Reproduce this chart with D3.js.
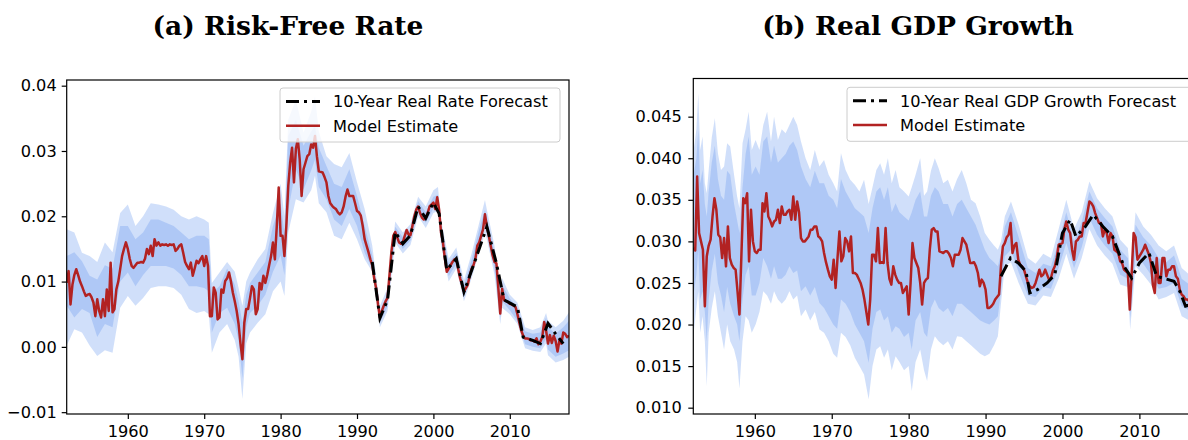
<!DOCTYPE html>
<html>
<head>
<meta charset="utf-8">
<script src="https://cdn.jsdelivr.net/npm/d3@7"></script>
<style>
  body { margin: 0; background: #fff; }
  svg { display: block; font-family: "DejaVu Sans", sans-serif; }
</style>
</head>
<body>
<svg id="chart" width="1188" height="440"></svg>
<script>
// ---- (a) risk-free rate: quarterly model estimate, 1952Q1 - 2017Q4
var rfModel = [
  .0098,.0116,.0065,.0095, .0110,.0119,.0110,.0100, .0093,.0085,.0078,.0080, .0081,.0076,.0068,.0047,
  .0073,.0055,.0045,.0073, .0047,.0088,.0055,.0129, .0053,.0058,.0088,.0100, .0119,.0139,.0150,.0160,
  .0150,.0135,.0124,.0121, .0125,.0129,.0129,.0130, .0129,.0135,.0150,.0142, .0155,.0139,.0165,.0155,
  .0160,.0155,.0157,.0156, .0157,.0155,.0157,.0156, .0157,.0147,.0150,.0155, .0157,.0144,.0130,.0124,
  .0119,.0129,.0109,.0120, .0132,.0128,.0134,.0139, .0124,.0139,.0124,.0047, .0047,.0091,.0083,.0042,
  .0045,.0088,.0083,.0101, .0105,.0114,.0100,.0083, .0070,.0055,.0035,.0005, -.0019,.0037,.0058,.0058,
  .0075,.0093,.0088,.0050, .0058,.0098,.0088,.0109, .0098,.0110,.0125,.0139, .0160,.0134,.0185,.0244,
  .0170,.0170,.0139,.0185, .0246,.0282,.0305,.0252, .0303,.0318,.0287,.0231, .0272,.0282,.0292,.0295,
  .0310,.0305,.0323,.0292, .0269,.0268,.0267,.0260, .0252,.0231,.0220,.0216, .0213,.0211,.0206,.0203,
  .0206,.0215,.0230,.0241, .0231,.0231,.0231,.0220, .0208,.0206,.0201,.0185, .0165,.0155,.0145,.0134,
  .0125,.0105,.0090,.0065, .0045,.0055,.0063,.0070, .0075,.0110,.0145,.0170, .0176,.0168,.0160,.0158,
  .0160,.0170,.0179,.0172, .0171,.0185,.0200,.0210, .0215,.0205,.0198,.0195, .0197,.0205,.0215,.0218,
  .0221,.0211,.0229,.0210, .0175,.0160,.0135,.0115, .0120,.0125,.0130,.0134, .0135,.0119,.0105,.0095,
  .0085,.0090,.0095,.0109, .0120,.0125,.0135,.0155, .0160,.0170,.0180,.0203, .0184,.0170,.0155,.0140,
  .0130,.0128,.0090,.0051, .0089,.0072,.0070,.0069, .0066,.0065,.0063,.0061, .0050,.0037,.0025,.0017,
  .0013,.0013,.0012,.0010, .0010,.0008,.0013,.0004, .0008,.0015,.0038,.0025, .0005,.0018,.0006,.0017,
  .0009,-.0007,.0010,.0005, .0022,.0020,.0015,.0017
];
var rfFcYears = [1992, 1993, 1994, 1995, 1996, 1997, 1998, 1999, 2000, 2000.75, 2001.75, 2003, 2004,
  2005.25, 2007, 2008.25, 2009.25, 2011, 2011.75, 2013, 2014, 2015, 2016, 2017];
var rfFc = [.0130, .0044, .0072, .0176, .0158, .0171, .0215, .0197, .0221, .0204, .0118, .0135, .0084,
  .0125, .0184, .0128, .0072, .0061, .0015, .0010, .0005, .0036, .0020, .0005];
var rfBandYears = [1952, 1953, 1954, 1955, 1956, 1957, 1958, 1959, 1960, 1961, 1962, 1963, 1964, 1965,
  1966, 1967, 1968, 1969, 1970, 1970.6, 1971, 1972, 1973, 1974, 1974.5, 1975, 1975.5, 1976, 1977, 1978,
  1979, 1980, 1980.5, 1981, 1982, 1983, 1984, 1984.5, 1985, 1986, 1987, 1988, 1989, 1990, 1991, 1992,
  1993, 1994, 1995, 1996, 1997, 1998, 1999, 2000, 2000.6, 2001, 2002, 2003, 2004, 2005, 2006, 2006.75,
  2007, 2008, 2008.75, 2009, 2010, 2011, 2012, 2013, 2014, 2014.75, 2015, 2016, 2017, 2017.75];
var rfOuterLo = [.0002, .0027, .0022, .0002, -.0014, -.0005, -.0009, .0060, .0078, .0063, .0075, .0090, .0093, .0093,
  .0090, .0080, .0058, .0052, .0055, .0050, -.0009, .0022, .0035, .0010, -.0015, -.0080, .0005, .0022, .0037, .0050,
  .0085, .0100, .0078, .0175, .0226, .0221, .0240, .0262, .0220, .0206, .0170, .0165, .0190, .0165, .0134, .0115,
  .0030, .0055, .0160, .0143, .0156, .0200, .0182, .0205, .0208, .0155, .0100, .0120, .0070, .0105, .0145, .0175,
  .0165, .0110, .0035, .0060, .0050, .0035, -.0002, -.0006, -.0008, .0005, -.0013, -.0024, -.0020, -.0015];
var rfInnerLo = [.0063, .0045, .0058, .0052, .0015, .0035, .0030, .0100, .0114, .0093, .0110, .0124, .0124, .0124,
  .0120, .0110, .0093, .0093, .0090, .0085, .0022, .0052, .0060, .0035, .0010, -.0049, .0030, .0052, .0063, .0080,
  .0115, .0140, .0110, .0210, .0272, .0241, .0270, .0287, .0245, .0226, .0195, .0185, .0211, .0185, .0144, .0120,
  .0037, .0062, .0168, .0150, .0163, .0207, .0190, .0212, .0215, .0163, .0108, .0127, .0077, .0113, .0155, .0185,
  .0175, .0120, .0045, .0070, .0056, .0040, .0004, .0000, -.0002, .0012, -.0004, -.0015, -.0010, -.0005];
var rfInnerHi = [.0139, .0145, .0131, .0109, .0103, .0125, .0120, .0185, .0185, .0165, .0175, .0195, .0195, .0190,
  .0185, .0175, .0165, .0170, .0170, .0165, .0083, .0093, .0120, .0095, .0070, .0037, .0080, .0098, .0114, .0130,
  .0185, .0220, .0175, .0323, .0348, .0308, .0330, .0338, .0305, .0277, .0250, .0245, .0272, .0231, .0185, .0140,
  .0053, .0082, .0184, .0168, .0180, .0223, .0206, .0230, .0233, .0185, .0128, .0144, .0094, .0133, .0180, .0210,
  .0198, .0145, .0080, .0095, .0074, .0060, .0024, .0020, .0022, .0045, .0030, .0020, .0030, .0040];
var rfOuterHi = [.0180, .0175, .0144, .0139, .0130, .0160, .0145, .0205, .0218, .0185, .0200, .0220, .0218, .0215,
  .0210, .0200, .0195, .0200, .0195, .0190, .0098, .0114, .0130, .0115, .0090, .0063, .0100, .0114, .0134, .0150,
  .0205, .0250, .0200, .0348, .0379, .0328, .0360, .0384, .0330, .0292, .0280, .0275, .0297, .0252, .0211, .0155,
  .0063, .0090, .0192, .0175, .0188, .0230, .0215, .0240, .0245, .0195, .0135, .0152, .0102, .0143, .0190, .0225,
  .0210, .0155, .0090, .0105, .0080, .0068, .0030, .0026, .0030, .0052, .0040, .0030, .0040, .0053];
var rfTicksY = [-0.01, 0, 0.01, 0.02, 0.03, 0.04];

// ---- (b) real GDP growth: quarterly model estimate, 1952Q1 - 2017Q4
var gdpModel = [
  .0292,.0289,.0378,.0310, .0300,.0290,.0222,.0282, .0295,.0302,.0330,.0352, .0338,.0308,.0305,.0280,
  .0304,.0270,.0318,.0280, .0272,.0268,.0266,.0240, .0212,.0282,.0352,.0346, .0358,.0276,.0338,.0300,
  .0288,.0286,.0290,.0290, .0346,.0336,.0358,.0330, .0325,.0318,.0324,.0326, .0338,.0322,.0342,.0332,
  .0332,.0336,.0338,.0326, .0354,.0326,.0348,.0335, .0304,.0300,.0300,.0303, .0306,.0314,.0314,.0318,
  .0318,.0306,.0304,.0300, .0286,.0275,.0266,.0258, .0254,.0278,.0244,.0280, .0312,.0276,.0282,.0304,
  .0300,.0288,.0306,.0262, .0262,.0260,.0255,.0250, .0242,.0230,.0215,.0200, .0230,.0284,.0284,.0276,
  .0316,.0274,.0275,.0274, .0316,.0274,.0255,.0248, .0270,.0260,.0254,.0250, .0250,.0238,.0242,.0246,
  .0212,.0250,.0298,.0280, .0274,.0268,.0250,.0224, .0250,.0254,.0256,.0290, .0314,.0316,.0312,.0312,
  .0288,.0287,.0286,.0288, .0288,.0285,.0280,.0270, .0284,.0284,.0284,.0290, .0304,.0300,.0296,.0285,
  .0274,.0274,.0275,.0270, .0262,.0246,.0254,.0250, .0242,.0220,.0220,.0222, .0225,.0230,.0233,.0236,
  .0270,.0294,.0298,.0305, .0308,.0322,.0286,.0295, .0298,.0278,.0272,.0270, .0266,.0258,.0250,.0246,
  .0244,.0245,.0250,.0258, .0266,.0258,.0260,.0266, .0260,.0254,.0256,.0265, .0270,.0280,.0296,.0297,
  .0298,.0315,.0324,.0314, .0310,.0290,.0278,.0300, .0302,.0306,.0306,.0322, .0322,.0335,.0348,.0346,
  .0342,.0334,.0328,.0322, .0322,.0306,.0314,.0310, .0298,.0310,.0306,.0290, .0288,.0286,.0276,.0274,
  .0266,.0264,.0262,.0218, .0262,.0310,.0305,.0278, .0282,.0286,.0290,.0296, .0290,.0284,.0274,.0248,
  .0238,.0280,.0250,.0250, .0280,.0280,.0258,.0266, .0266,.0270,.0270,.0258, .0255,.0242,.0236,.0234,
  .0230,.0230,.0228,.0232, .0235,.0238,.0240,.0242
];
var gdpFcYears = [1992, 1993.25, 1994.25, 1995.25, 1995.75, 1996.75, 1998, 1999, 1999.75, 2000, 2001, 2001.75,
  2003, 2004, 2005.25, 2006.5, 2008, 2009, 2010, 2011.25, 2012.25, 2013, 2014.5, 2015.25, 2016, 2017];
var gdpFc = [.0258, .0280, .0274, .0264, .0238, .0242, .0250, .0260, .0298, .0310, .0326, .0306,
  .0318, .0332, .0318, .0306, .0270, .0256, .0274, .0286, .0258, .0256, .0252, .0240, .0222, .0225];
var gdpBandYears = [
  1952, 1952.4, 1952.65, 1952.9, 1953.2, 1953.5, 1953.75, 1954, 1954.4, 1954.8, 1955.2, 1955.6, 1956, 1956.4,
  1956.8, 1957.3, 1957.7, 1958, 1958.4, 1958.8, 1959.2, 1959.6, 1960.1, 1960.6, 1961.1, 1961.6, 1962.1, 1962.5,
  1963, 1963.5, 1964, 1964.5, 1965, 1965.5, 1966, 1966.6, 1967.2, 1967.8, 1968.4, 1969, 1969.6, 1970.2,
  1970.7, 1971.2, 1971.8, 1972.4, 1973, 1973.6, 1974.2, 1974.8, 1975.3, 1975.8, 1976.3, 1976.8, 1977.3, 1977.8,
  1978.3, 1978.8, 1979.4, 1980, 1980.4, 1980.9, 1981.5, 1982, 1982.4, 1982.9, 1983.4, 1983.9, 1984.5, 1985.1,
  1985.7, 1986.3, 1986.9, 1987.5, 1988.1, 1988.7, 1989.3, 1989.9, 1990.5, 1991.1, 1991.6,
  1992, 1992.5, 1993.3, 1994.3, 1995.5, 1996.5, 1997.5, 1998.5, 1999.5, 2000.5, 2001.5, 2002.5, 2003.5,
  2004.5, 2005.5, 2006.5, 2007.5, 2008.5, 2008.8, 2009.5, 2010.5, 2011.5, 2012.5, 2013.5, 2014.5, 2015.5,
  2016.5, 2017.75];
var gdpOuterLo = [
  .0186, .0220, .0240, .0190, .0210, .0180, .0126, .0190, .0220, .0240, .0210, .0190, .0170, .0200,
  .0180, .0170, .0155, .0123, .0180, .0210, .0205, .0190, .0200, .0215, .0240, .0235, .0225, .0240,
  .0230, .0225, .0230, .0240, .0230, .0235, .0210, .0218, .0205, .0215, .0194, .0190, .0180, .0165,
  .0160, .0190, .0185, .0175, .0160, .0150, .0140, .0110, .0150, .0170, .0174, .0160, .0170, .0145,
  .0162, .0155, .0145, .0150, .0120, .0155, .0170, .0145, .0132, .0170, .0186, .0180, .0175, .0180,
  .0170, .0186, .0185, .0180, .0175, .0170, .0165, .0162, .0165, .0175, .0186,
  .0225, .0270, .0275, .0250, .0225, .0223, .0235, .0233, .0255, .0285, .0255, .0280, .0315,
  .0295, .0283, .0273, .0248, .0245, .0194, .0270, .0260, .0248, .0230, .0233, .0238, .0210,
  .0205, .0210];
var gdpInnerLo = [
  .0234, .0260, .0290, .0230, .0240, .0215, .0180, .0230, .0265, .0285, .0250, .0235, .0215, .0245,
  .0225, .0210, .0200, .0180, .0230, .0260, .0270, .0235, .0235, .0250, .0280, .0270, .0255, .0270,
  .0255, .0255, .0260, .0270, .0262, .0265, .0240, .0246, .0235, .0245, .0226, .0220, .0210, .0200,
  .0195, .0230, .0225, .0215, .0200, .0190, .0180, .0154, .0195, .0215, .0218, .0205, .0210, .0190,
  .0198, .0195, .0185, .0190, .0170, .0205, .0215, .0190, .0185, .0220, .0230, .0220, .0215, .0220,
  .0210, .0225, .0225, .0220, .0215, .0210, .0205, .0202, .0200, .0205, .0210,
  .0240, .0282, .0290, .0263, .0235, .0233, .0245, .0243, .0268, .0298, .0268, .0293, .0328,
  .0308, .0295, .0285, .0260, .0255, .0208, .0283, .0273, .0260, .0243, .0245, .0250, .0222,
  .0217, .0222];
var gdpInnerHi = [
  .0378, .0400, .0434, .0370, .0386, .0345, .0330, .0360, .0395, .0415, .0375, .0355, .0350, .0385,
  .0380, .0345, .0325, .0310, .0365, .0405, .0426, .0380, .0390, .0380, .0420, .0426, .0395, .0415,
  .0395, .0400, .0405, .0415, .0420, .0410, .0390, .0375, .0365, .0385, .0370, .0370, .0355, .0350,
  .0340, .0375, .0360, .0350, .0340, .0335, .0330, .0310, .0340, .0360, .0365, .0350, .0365, .0335,
  .0346, .0335, .0330, .0325, .0335, .0350, .0360, .0330, .0330, .0355, .0365, .0360, .0345, .0345,
  .0330, .0345, .0350, .0340, .0330, .0320, .0305, .0290, .0280, .0275, .0270,
  .0285, .0318, .0335, .0305, .0268, .0262, .0273, .0270, .0300, .0335, .0300, .0323, .0360,
  .0340, .0328, .0318, .0290, .0280, .0245, .0320, .0305, .0295, .0280, .0275, .0283, .0255,
  .0248, .0255];
var gdpOuterHi = [
  .0406, .0435, .0478, .0410, .0426, .0370, .0358, .0386, .0425, .0448, .0406, .0386, .0390, .0418,
  .0414, .0380, .0354, .0340, .0418, .0435, .0456, .0410, .0422, .0410, .0440, .0456, .0420, .0450,
  .0422, .0435, .0430, .0440, .0450, .0440, .0420, .0400, .0386, .0410, .0390, .0398, .0380, .0370,
  .0360, .0406, .0386, .0374, .0368, .0360, .0374, .0345, .0365, .0386, .0394, .0380, .0400, .0370,
  .0386, .0365, .0360, .0354, .0365, .0380, .0400, .0355, .0360, .0385, .0400, .0388, .0370, .0374,
  .0360, .0375, .0386, .0370, .0350, .0346, .0330, .0310, .0302, .0295, .0290,
  .0300, .0330, .0348, .0320, .0280, .0273, .0285, .0280, .0315, .0350, .0315, .0335, .0372,
  .0352, .0340, .0330, .0302, .0292, .0260, .0335, .0318, .0308, .0295, .0288, .0295, .0268,
  .0260, .0268];
var gdpTicksY = [0.010, 0.015, 0.020, 0.025, 0.030, 0.035, 0.040, 0.045];

var xTicks = [1960, 1970, 1980, 1990, 2000, 2010];

var svg = d3.select("#chart");

function drawPanel(p) {
    var x = d3.scaleLinear().domain([1952, 2017.75]).range([p.left, p.right]);
    var y = d3.scaleLinear().domain(p.yDomain).range([p.bottom, p.top]);

    svg.append("clipPath").attr("id", "clip-" + p.id)
        .append("rect")
        .attr("x", p.left).attr("y", p.top)
        .attr("width", p.right - p.left).attr("height", p.bottom - p.top);

    var plot = svg.append("g").attr("clip-path", "url(#clip-" + p.id + ")");

    var band = p.bandYears.map(function (yr, i) {
        return { yr: yr, olo: p.outerLo[i], ilo: p.innerLo[i], ihi: p.innerHi[i], ohi: p.outerHi[i] };
    });

    // outer interval first, inner on top (both translucent)
    plot.append("path").datum(band)
        .attr("d", d3.area().x(function (d) { return x(d.yr); })
            .y0(function (d) { return y(d.olo); }).y1(function (d) { return y(d.ohi); }))
        .attr("fill", "cornflowerblue").attr("fill-opacity", 0.3);
    plot.append("path").datum(band)
        .attr("d", d3.area().x(function (d) { return x(d.yr); })
            .y0(function (d) { return y(d.ilo); }).y1(function (d) { return y(d.ihi); }))
        .attr("fill", "cornflowerblue").attr("fill-opacity", 0.3);

    var model = p.model.map(function (v, i) { return { yr: 1952 + i / 4, v: v }; });
    plot.append("path").datum(model)
        .attr("d", d3.line().x(function (d) { return x(d.yr); }).y(function (d) { return y(d.v); }))
        .attr("fill", "none").attr("stroke", "#b22222").attr("stroke-width", 2.5)
        .attr("stroke-linejoin", "round");

    var fc = p.fcYears.map(function (yr, i) { return { yr: yr, v: p.fc[i] }; });
    plot.append("path").datum(fc)
        .attr("d", d3.line().x(function (d) { return x(d.yr); }).y(function (d) { return y(d.v); }))
        .attr("fill", "none").attr("stroke", "#000").attr("stroke-width", 3)
        .attr("stroke-dasharray", "13,5,3,5");

    // axes
    var ax = svg.append("g")
        .attr("transform", "translate(0," + p.bottom + ")")
        .call(d3.axisBottom(x).tickValues(xTicks).tickFormat(d3.format("d"))
            .tickSize(5).tickPadding(6).tickSizeOuter(0));
    var ay = svg.append("g")
        .attr("transform", "translate(" + p.left + ",0)")
        .call(d3.axisLeft(y).tickValues(p.yTicks).tickFormat(d3.format(p.yFormat))
            .tickSize(5).tickPadding(p.yPad).tickSizeOuter(0));
    [ax, ay].forEach(function (a) {
        a.select(".domain").remove();
        a.selectAll("line").attr("stroke", "#000").attr("stroke-width", 1.2);
        a.selectAll("text").attr("fill", "#000")
            .style("font-family", '"DejaVu Sans", sans-serif').style("font-size", "16.2px");
    });

    svg.append("rect")
        .attr("x", p.left).attr("y", p.top)
        .attr("width", p.right - p.left).attr("height", p.bottom - p.top)
        .attr("fill", "none").attr("stroke", "#000").attr("stroke-width", 1.2);

    // legend
    var lg = svg.append("g");
    lg.append("rect")
        .attr("x", p.legX).attr("y", p.legY).attr("width", p.legW).attr("height", 54)
        .attr("rx", 3).attr("fill", "#fff").attr("fill-opacity", 0.8)
        .attr("stroke", "#cccccc").attr("stroke-width", 1);
    var rows = [
        { label: p.fcLabel, color: "#000", width: 3, dash: "13,5,3,5" },
        { label: "Model Estimate", color: "#b22222", width: 2.5, dash: null }
    ];
    rows.forEach(function (r, i) {
        var cy = p.legY + 13.5 + i * 24.3;
        lg.append("line")
            .attr("x1", p.legX + 6).attr("x2", p.legX + 40)
            .attr("y1", cy).attr("y2", cy)
            .attr("stroke", r.color).attr("stroke-width", r.width)
            .attr("stroke-dasharray", r.dash);
        lg.append("text")
            .attr("x", p.legX + 53).attr("y", cy).attr("dy", "0.36em")
            .style("font-size", "16.2px")
            .text(r.label);
    });

    svg.append("text")
        .attr("x", p.titleX).attr("y", 35)
        .attr("text-anchor", "middle")
        .style("font-family", '"DejaVu Serif", serif')
        .style("font-weight", "bold")
        .style("font-size", "26.5px")
        .text(p.title);
}

drawPanel({
    id: "rf", title: "(a) Risk-Free Rate", titleX: 288,
    left: 66.7, right: 569, top: 80, bottom: 414,
    yDomain: [-0.01028, 0.04087], yTicks: rfTicksY, yFormat: ".2f", yPad: 5,
    model: rfModel, fcYears: rfFcYears, fc: rfFc,
    bandYears: rfBandYears, outerLo: rfOuterLo, innerLo: rfInnerLo, innerHi: rfInnerHi, outerHi: rfOuterHi,
    fcLabel: "10-Year Real Rate Forecast", legX: 280, legY: 88, legW: 280
});

drawPanel({
    id: "gdp", title: "(b) Real GDP Growth", titleX: 918,
    left: 693.3, right: 1199, top: 78.5, bottom: 414,
    yDomain: [0.00924, 0.04959], yTicks: gdpTicksY, yFormat: ".3f", yPad: 6.5,
    model: gdpModel, fcYears: gdpFcYears, fc: gdpFc,
    bandYears: gdpBandYears, outerLo: gdpOuterLo, innerLo: gdpInnerLo, innerHi: gdpInnerHi, outerHi: gdpOuterHi,
    fcLabel: "10-Year Real GDP Growth Forecast", legX: 847, legY: 87.3, legW: 345
});
</script>
</body>
</html>
